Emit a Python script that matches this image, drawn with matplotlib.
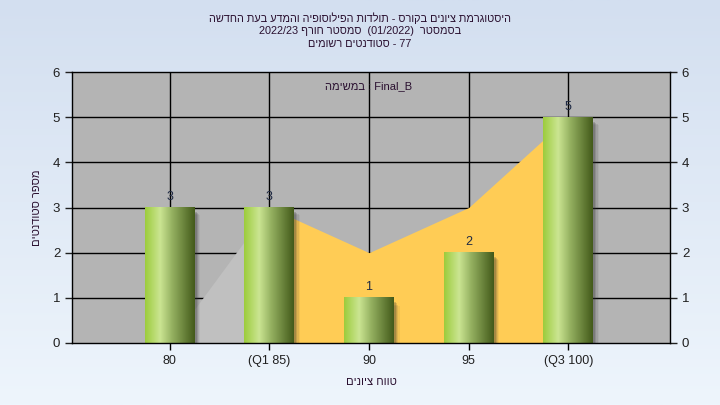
import re
import numpy as np
import matplotlib
matplotlib.use("Agg")
import matplotlib.pyplot as plt
from matplotlib.patches import Rectangle
from matplotlib.colors import LinearSegmentedColormap

plt.rcParams['font.family'] = ['Liberation Sans', 'DejaVu Sans']

# chart data
categories = ['80', '(Q1 85)', '90', '95', '(Q3 100)']
counts = [3, 3, 1, 2, 5]
area_values = [0, 3, 2, 3, 5]
y_ticks = [0, 1, 2, 3, 4, 5, 6]

title_lines = [
    "היסטוגרמת ציונים בקורס - תולדות הפילוסופיה והמדע בעת החדשה",
    "בסמסטר  (01/2022)  סמסטר חורף 2022/23",
    "77 - סטודנטים רשומים",
]
series_label = "Final_B : במשימה"
x_label = "טווח ציונים"
y_label = "מספר סטודנטים"


def rtl(s):
    # crude visual reordering for right-to-left text
    r = s[::-1]
    r = re.sub(r'[A-Za-z0-9_/.]+', lambda m: m.group(0)[::-1], r)
    return r.translate(str.maketrans('()', ')('))


fig = plt.figure(figsize=(7.2, 4.05), dpi=100)

# background gradient
bg = fig.add_axes([0, 0, 1, 1], zorder=-10)
bg_cmap = LinearSegmentedColormap.from_list('bg', ['#d3dff0', '#eef5fc'])
bg.imshow(np.linspace(0, 1, 256).reshape(-1, 1), cmap=bg_cmap, aspect='auto',
          extent=[0, 1, 0, 1], origin='upper')
bg.axis('off')

ax = fig.add_axes([0.1, 0.1531, 0.8306, 0.6691])
ax.set_facecolor('#b4b4b4')
x = np.arange(len(categories))

# grid
for yv in y_ticks[1:-1]:
    ax.axhline(yv, color='black', lw=1, zorder=1)
for xv in x:
    ax.axvline(xv, color='black', lw=1, zorder=1)

# area behind bars
ax.fill_between(x[:2], area_values[:2], 0, color='#c0c0c0', lw=0, zorder=2)
ax.fill_between(x[1:], area_values[1:], 0, color='#ffcc55', lw=0, zorder=2)

# bars with cylinder-like gradient
bar_cmap = LinearSegmentedColormap.from_list(
    'bar', [(0, '#9ccc3c'), (0.3, '#cbe592'), (0.55, '#94b060'), (1, '#435a1a')])
grad = np.linspace(0, 1, 128).reshape(1, -1)
w = 0.5
for xi, c in zip(x, counts):
    for k, a in enumerate([0.2, 0.15, 0.1, 0.06]):
        off = 0.02 + k * 0.012
        ax.add_patch(Rectangle((xi - w / 2 + off, -0.08), w, c + 0.02 - off * 2,
                               color='#303030', alpha=a, lw=0, zorder=3))
    ax.imshow(grad, cmap=bar_cmap, aspect='auto', extent=[xi - w / 2, xi + w / 2, 0, c],
              zorder=4, interpolation='bilinear')
    ax.text(xi, c + 0.1, str(c), ha='center', va='bottom', fontsize=9,
            color='#1f2a44', zorder=5)

ax.text(2, 5.68, rtl(series_label), ha='center', va='center', fontsize=8,
        color='#2a1030', zorder=5)

ax.set_xlim(-0.98, 5.02)
ax.set_ylim(0, 6)
ax.set_xticks(x)
ax.set_xticklabels(categories, fontsize=9, color='#202020')
ax.set_yticks(y_ticks)
ax.tick_params(axis='y', labelsize=9.5, colors='#202020', right=True, labelright=True,
               length=5, width=1, direction='out')
ax.tick_params(axis='x', length=5, width=1, direction='out', pad=4)
for sp in ax.spines.values():
    sp.set_color('black')
    sp.set_linewidth(1)
    sp.set_zorder(6)

ax.set_xlabel(rtl(x_label), fontsize=8, color='#2a1030', labelpad=7)
ax.set_ylabel(rtl(y_label), fontsize=8, color='#2a1030', labelpad=8)

for i, line in enumerate(title_lines):
    fig.text(0.5, 1 - (18 + 13 * i) / 405, rtl(line), ha='center', va='center',
             fontsize=7.8, color='#2a1030')

fig.savefig('out.png', dpi=100)
